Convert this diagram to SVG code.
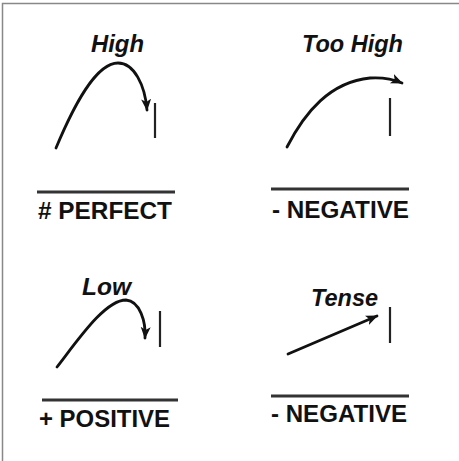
<svg xmlns="http://www.w3.org/2000/svg" width="459" height="461" viewBox="0 0 459 461">
<style>
.lbl{font-family:"Liberation Sans",Arial,sans-serif;font-weight:bold;font-style:italic;font-size:23px;fill:#111}
.cap{font-family:"Liberation Sans",Arial,sans-serif;font-weight:bold;font-size:24px;fill:#111}
.arc{fill:none;stroke:#111;stroke-width:2.8;stroke-linecap:round}
.bar{stroke:#222;stroke-width:2.2}
.rule{stroke:#333;stroke-width:3}
</style>
<defs>
<marker id="ah" markerUnits="userSpaceOnUse" markerWidth="14" markerHeight="12" refX="11" refY="5" orient="auto">
<path d="M0,0 L12,5 L0,10 L3,5 Z" fill="#111"/>
</marker>
</defs>
<rect x="0" y="0" width="459" height="461" fill="#fff"/>
<path d="M2.5,461 V3.5 H459" fill="none" stroke="#888" stroke-width="1.5"/>
<g id="panel-high">
<text class="lbl" x="91" y="52" textLength="53" lengthAdjust="spacingAndGlyphs">High</text>
<text class="cap" x="38" y="219" textLength="134" lengthAdjust="spacingAndGlyphs"># PERFECT</text>
<line class="rule" x1="37" y1="192" x2="175" y2="192"/>
<line class="bar" x1="155" y1="103" x2="155" y2="138"/>
</g>
<g id="panel-too-high">
<text class="lbl" x="302" y="51.5" textLength="101" lengthAdjust="spacingAndGlyphs">Too High</text>
<text class="cap" x="272" y="218" textLength="137" lengthAdjust="spacingAndGlyphs">- NEGATIVE</text>
<line class="rule" x1="271" y1="189" x2="409" y2="189"/>
<line class="bar" x1="390" y1="98" x2="390" y2="136"/>
</g>
<g id="panel-low">
<text class="lbl" x="82" y="295" textLength="49" lengthAdjust="spacingAndGlyphs">Low</text>
<text class="cap" x="39" y="427" textLength="131" lengthAdjust="spacingAndGlyphs">+ POSITIVE</text>
<line class="rule" x1="42" y1="400" x2="178" y2="400"/>
<line class="bar" x1="160" y1="311" x2="160" y2="347"/>
</g>
<g id="panel-tense">
<text class="lbl" x="311" y="306" textLength="67" lengthAdjust="spacingAndGlyphs">Tense</text>
<text class="cap" x="271" y="422" textLength="136" lengthAdjust="spacingAndGlyphs">- NEGATIVE</text>
<line class="rule" x1="271" y1="396" x2="409" y2="396"/>
<line class="bar" x1="390" y1="307" x2="390" y2="343"/>
</g>
<g id="connectors">
<path class="arc" d="M56,148 C74,105 96,63 118,63 C134,63 145,85 147,110" marker-end="url(#ah)"/>
<path class="arc" d="M287,147 C305,112 330,82 370,78 C385,77 395,80 402,83" marker-end="url(#ah)"/>
<path class="arc" d="M57,367 C78,340 105,300 126,300 C140,301 146,322 145,338" marker-end="url(#ah)"/>
<path class="arc" d="M288,354 L377,316" marker-end="url(#ah)"/>
</g>
</svg>
